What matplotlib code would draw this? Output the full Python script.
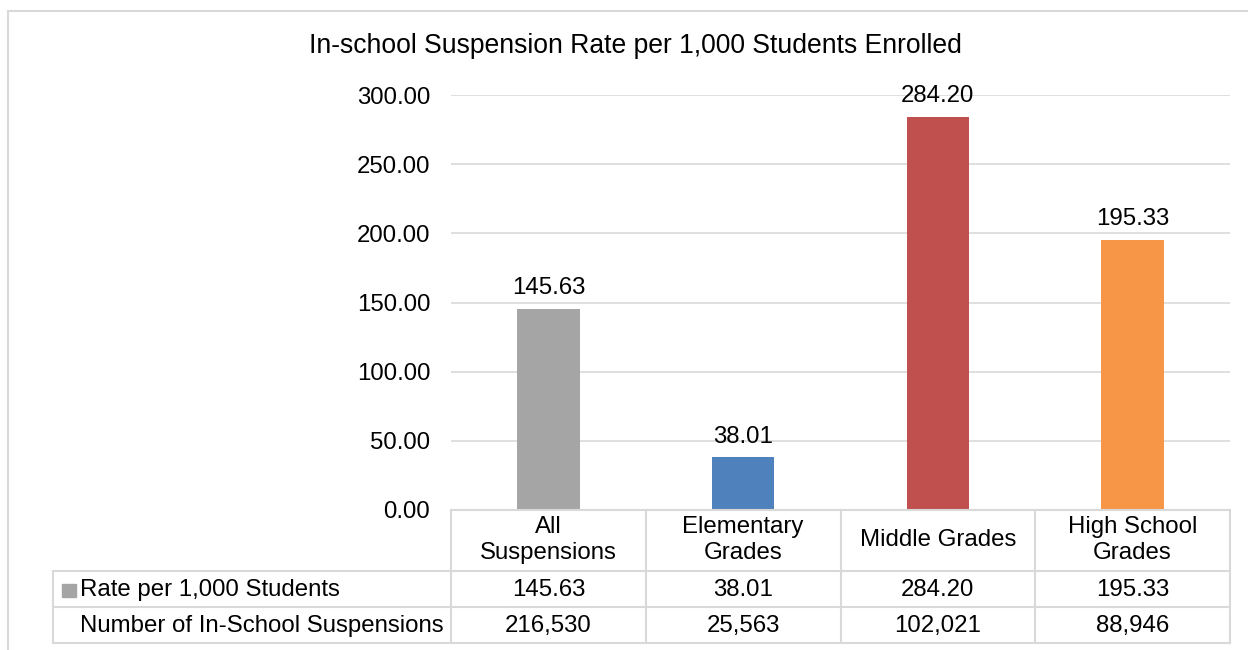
import matplotlib.pyplot as plt
import matplotlib.transforms as mtransforms
from matplotlib.patches import Rectangle
from matplotlib.lines import Line2D

plt.rcParams['font.family'] = ['Liberation Sans', 'DejaVu Sans']

categories = ['All\nSuspensions', 'Elementary\nGrades', 'Middle Grades', 'High School\nGrades']
rates = [145.63, 38.01, 284.20, 195.33]
counts = [216530, 25563, 102021, 88946]
colors = ['#A5A5A5', '#4F81BD', '#C0504D', '#F79646']
row_labels = ['Rate per 1,000 Students', 'Number of In-School Suspensions']
yticks = [0, 50, 100, 150, 200, 250, 300]

W, H = 1248, 650
grid = '#D9D9D9'
fs = 17.3


def fy(y):
    # pixel row (from top) -> figure fraction
    return 1 - y / H


fig = plt.figure(figsize=(W / 100, H / 100), dpi=100)
ax = fig.add_axes([451 / W, fy(510), (1230 - 451) / W, (510 - 95) / H])

x = range(len(categories))
ax.bar(x, rates, width=0.32, color=colors, zorder=3)
for i, v in enumerate(rates):
    ax.annotate(f'{v:.2f}', (i, v), xytext=(0, 7), textcoords='offset points',
                ha='center', va='bottom', fontsize=fs)

ax.set_xlim(-0.5, len(categories) - 0.5)
ax.set_ylim(0, 300)
ax.set_yticks(yticks)
ax.set_yticklabels([f'{t:.2f}' for t in yticks], fontsize=fs)
ax.tick_params(axis='y', length=0, pad=15)
ax.set_xticks([])
ax.yaxis.grid(True, color=grid, lw=1.2, zorder=0)
for s in ax.spines.values():
    s.set_visible(False)

fig.text(635 / W, fy(46), 'In-school Suspension Rate per 1,000 Students Enrolled',
         ha='center', va='center', fontsize=19.1)

# data table below the plot
tr = mtransforms.blended_transform_factory(ax.transData, fig.transFigure)
rows_y = [510, 571, 607, 643]
left_x = 53 / W
n = len(categories)
lw = 1.5
# horizontal lines
fig.add_artist(Line2D([-0.5, n - 0.5], [fy(510), fy(510)], transform=tr, color=grid, lw=lw))
for y in rows_y[1:]:
    fig.add_artist(Line2D([left_x, 1230 / W], [fy(y), fy(y)], transform=fig.transFigure,
                          color=grid, lw=lw))
# vertical lines
fig.add_artist(Line2D([left_x, left_x], [fy(571), fy(643)], transform=fig.transFigure,
                      color=grid, lw=lw))
for i in range(n + 1):
    fig.add_artist(Line2D([i - 0.5, i - 0.5], [fy(510), fy(643)], transform=tr,
                          color=grid, lw=lw))

for i, c in enumerate(categories):
    fig.text(i, fy(540), c, transform=tr, ha='center', va='center', fontsize=fs,
             linespacing=1.28)
    fig.text(i, fy(590), f'{rates[i]:.2f}', transform=tr, ha='center', va='center', fontsize=fs)
    fig.text(i, fy(626), f'{counts[i]:,}', transform=tr, ha='center', va='center', fontsize=fs)

fig.add_artist(Rectangle((62 / W, fy(597)), 14 / W, 13 / H, transform=fig.transFigure,
                         color=colors[0]))
fig.text(80 / W, fy(590), row_labels[0], ha='left', va='center', fontsize=fs)
fig.text(80 / W, fy(626), row_labels[1], ha='left', va='center', fontsize=fs)

# chart border
fig.add_artist(Rectangle((8 / W, -0.1), 1.2, fy(11) + 0.1, transform=fig.transFigure,
                         fill=False, edgecolor=grid, lw=1.5))

fig.savefig('out.png', dpi=100)
